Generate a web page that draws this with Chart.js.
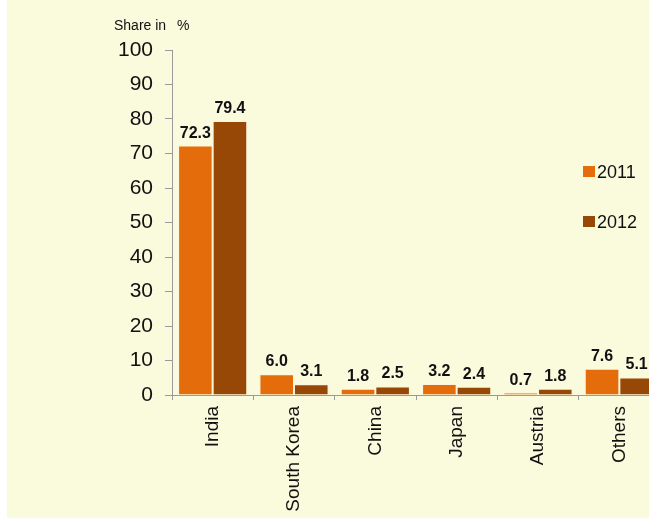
<!DOCTYPE html>
<html>
<head>
<meta charset="utf-8">
<script src="https://cdn.jsdelivr.net/npm/chart.js@4.4.1/dist/chart.umd.min.js"></script>
<style>
  html, body { margin:0; padding:0; width:649px; height:518px; overflow:hidden; background:#FAFADC; }
  #strip { position:absolute; left:0; top:0; width:7px; height:518px; background:#ffffff; z-index:2; }
  #wrap { position:absolute; left:0; top:0; width:660px; height:518px; }
</style>
</head>
<body>
<div id="strip"></div>
<div id="wrap"><canvas id="c" width="660" height="518"></canvas></div>
<script>
const categories = ["India", "South Korea", "China", "Japan", "Austria", "Others"];
const series2011 = [72.3, 6.0, 1.8, 3.2, 0.7, 7.6];
const series2012 = [79.4, 3.1, 2.5, 2.4, 1.8, 5.1];
const seriesNames = ["2011", "2012"];
const yTicks = [0, 10, 20, 30, 40, 50, 60, 70, 80, 90, 100];
const axisTitle = ["Share in", "%"];

const FONT = "'Liberation Sans', Arial, sans-serif";
const colors = ["#E46C0A", "#974806"];

const labelsPlugin = {
  id: "valueLabels",
  afterDatasetsDraw(chart) {
    const ctx = chart.ctx;
    ctx.save();
    ctx.font = "bold 16px " + FONT;
    ctx.fillStyle = "#111111";
    ctx.textAlign = "center";
    ctx.textBaseline = "alphabetic";
    chart.data.datasets.forEach((ds, i) => {
      chart.getDatasetMeta(i).data.forEach((bar, j) => {
        ctx.fillText(ds.data[j].toFixed(1), bar.x, bar.y - 8);
      });
    });
    ctx.restore();
  }
};

const extrasPlugin = {
  id: "extras",
  afterDraw(chart) {
    const ctx = chart.ctx;
    ctx.save();
    ctx.font = "14px " + FONT;
    ctx.fillStyle = "#111111";
    ctx.textAlign = "left";
    ctx.textBaseline = "middle";
    ctx.fillText(axisTitle[0], 114, 26);
    ctx.fillText(axisTitle[1], 177, 26);
    const ys = [172, 222];
    ctx.font = "18px " + FONT;
    chart.data.datasets.forEach((ds, i) => {
      ctx.fillStyle = ds.backgroundColor;
      ctx.fillRect(583, ys[i] - 6, 12, 11);
      ctx.fillStyle = "#111111";
      ctx.fillText(ds.label, 597, ys[i] + 1);
    });
    ctx.restore();
  }
};

new Chart(document.getElementById("c"), {
  type: "bar",
  data: {
    labels: categories,
    datasets: [
      { label: seriesNames[0], data: series2011, backgroundColor: colors[0], borderColor: "rgba(255,240,220,0.7)", borderWidth: 1 },
      { label: seriesNames[1], data: series2012, backgroundColor: colors[1], borderColor: "rgba(255,240,220,0.7)", borderWidth: 1 }
    ]
  },
  options: {
    responsive: false,
    animation: false,
    devicePixelRatio: 1,
    layout: { padding: { top: 50, right: 0, left: 0, bottom: 0 } },
    datasets: { bar: { categoryPercentage: 0.85, barPercentage: 1.0 } },
    plugins: { legend: { display: false }, tooltip: { enabled: false } },
    scales: {
      x: {
        offset: true,
        grid: { offset: true, drawOnChartArea: false, tickLength: 5, color: "#9a9a9a" },
        border: { color: "#9a9a9a" },
        ticks: { autoSkip: false, minRotation: 90, maxRotation: 90, padding: 6, color: "#111111", font: { family: FONT, size: 19 } },
        afterFit(scale) { scale.height = 123; }
      },
      y: {
        min: 0, max: 100,
        afterBuildTicks(scale) { scale.ticks = yTicks.map(v => ({ value: v })); },
        grid: { drawOnChartArea: false, tickLength: 7, color: "#9a9a9a" },
        border: { color: "#9a9a9a" },
        ticks: { padding: 12, color: "#111111", font: { family: FONT, size: 21 } },
        afterFit(scale) { scale.width = 172; }
      }
    }
  },
  plugins: [labelsPlugin, extrasPlugin]
});
</script>
</body>
</html>
